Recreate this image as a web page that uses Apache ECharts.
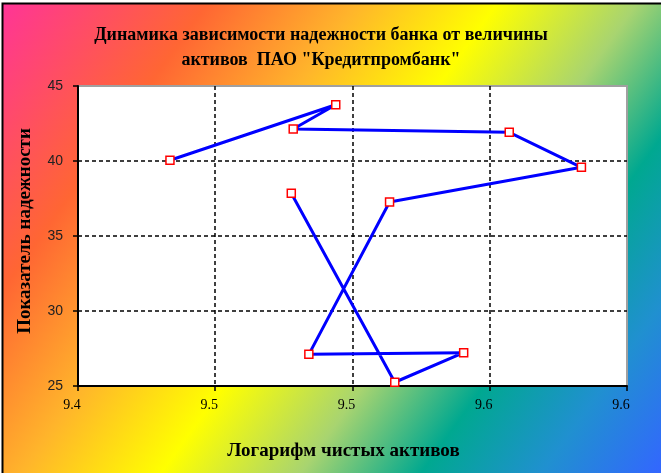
<!DOCTYPE html>
<html>
<head>
<meta charset="utf-8">
<script src="https://cdn.jsdelivr.net/npm/echarts@6/dist/echarts.min.js"></script>
<style>
html,body{margin:0;padding:0;background:#fff;}
#chart{width:661px;height:473px;}
</style>
</head>
<body>
<div id="chart"></div>
<script>
// Data
var logAssets = [9.4335, 9.4939, 9.4784, 9.5571, 9.5834, 9.5135, 9.4841, 9.5405, 9.5154, 9.4777];
var reliability = [40.05, 43.75, 42.13, 41.91, 39.58, 37.27, 27.11, 27.22, 25.25, 37.85];
var xTickLabels = ['9.4', '9.5', '9.5', '9.6', '9.6'];
var yTickLabels = ['25', '30', '35', '40', '45'];

var titleText = 'Динамика зависимости надежности банка от величины\nактивов  ПАО "Кредитпромбанк"';
var xName = 'Логарифм чистых активов';
var yName = 'Показатель надежности';

var points = logAssets.map(function (x, i) { return [x, reliability[i]]; });

var serif = '"Liberation Serif", "Times New Roman", serif';
var sans = '"Liberation Sans", Arial, sans-serif';

var chart = echarts.init(document.getElementById('chart'));
chart.setOption({
  animation: false,
  backgroundColor: '#ffffff',
  graphic: [{
    type: 'rect',
    z: -100,
    silent: true,
    shape: { x: 2.5, y: 3.5, width: 700, height: 600 },
    style: {
      stroke: '#000',
      lineWidth: 2,
      fill: {
        type: 'linear', global: true,
        x: 0, y: 0, x2: 661, y2: 473,
        colorStops: [
          { offset: 0, color: '#ff3399' },
          { offset: 0.21, color: '#ff6633' },
          { offset: 0.36, color: '#ffb52b' },
          { offset: 0.5, color: '#ffff00' },
          { offset: 0.64, color: '#a8d470' },
          { offset: 0.76, color: '#00a890' },
          { offset: 0.88, color: '#2090d0' },
          { offset: 1, color: '#3366ff' }
        ]
      }
    }
  }],
  title: {
    text: titleText,
    left: 316,
    top: 18,
    textAlign: 'center',
    textStyle: {
      fontFamily: serif,
      fontWeight: 'bold',
      fontSize: 18,
      lineHeight: 25,
      color: '#000'
    }
  },
  grid: {
    left: 78, top: 86, right: 34, bottom: 87,
    show: true,
    backgroundColor: '#ffffff',
    borderColor: '#a0a0a0',
    borderWidth: 2
  },
  xAxis: {
    type: 'value',
    min: 9.4, max: 9.6, interval: 0.05,
    name: xName,
    nameLocation: 'middle',
    nameGap: 56,
    nameTextStyle: { fontFamily: serif, fontWeight: 'bold', fontSize: 19, color: '#000', padding: [0, 18, 0, 0] },
    axisLine: { show: true, lineStyle: { color: '#000', width: 2 } },
    axisTick: { show: true, inside: false, length: 5, lineStyle: { color: '#000', width: 1.5 } },
    axisLabel: {
      margin: 12,
      fontFamily: serif, fontSize: 14, color: '#000',
      padding: [0, 12, 0, 0],
      formatter: function (v) { return xTickLabels[Math.round((v - 9.4) / 0.05)]; }
    },
    splitLine: { show: true, showMinLine: false, showMaxLine: false, lineStyle: { color: '#000', width: 1.5, type: [4, 3] } }
  },
  yAxis: {
    type: 'value',
    min: 25, max: 45, interval: 5,
    name: yName,
    nameLocation: 'middle',
    nameGap: 43,
    nameRotate: 90,
    nameTextStyle: { fontFamily: serif, fontWeight: 'bold', fontSize: 19, color: '#000', padding: [0, 0, 0, 10] },
    axisLine: { show: true, lineStyle: { color: '#000', width: 2 } },
    axisTick: { show: true, inside: false, length: 5, lineStyle: { color: '#000', width: 1.5 } },
    axisLabel: {
      margin: 15,
      fontFamily: sans, fontSize: 14, color: '#222',
      formatter: function (v) { return yTickLabels[Math.round((v - 25) / 5)]; }
    },
    splitLine: { show: true, showMinLine: false, showMaxLine: false, lineStyle: { color: '#000', width: 1.5, type: [4, 3] } }
  },
  series: [{
    type: 'line',
    data: points,
    symbol: 'rect',
    symbolSize: 8,
    showAllSymbol: true,
    lineStyle: { color: '#0000ff', width: 3 },
    itemStyle: { color: '#ffffff', borderColor: '#ff0000', borderWidth: 1.5 },
    z: 3
  }]
});
</script>
</body>
</html>
